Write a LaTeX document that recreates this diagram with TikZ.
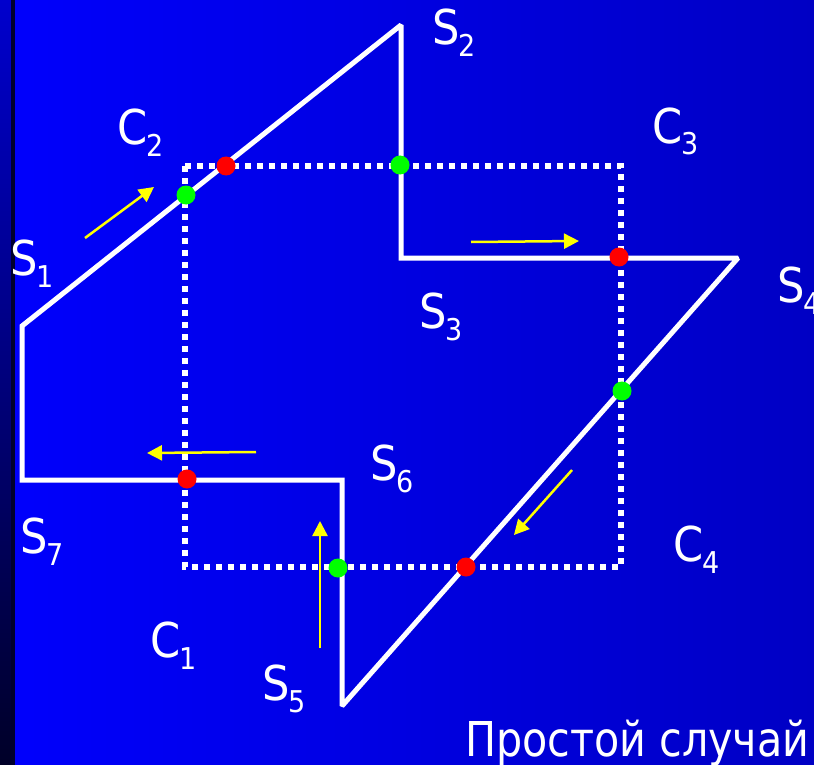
\documentclass[tikz,border=0pt]{standalone}
\usepackage{fontspec}
\setmainfont{DejaVu Sans Condensed}
\usetikzlibrary{arrows.meta}
\definecolor{bgL}{RGB}{0,0,252}
\definecolor{bgR}{RGB}{0,0,196}
\definecolor{stripT}{RGB}{0,0,205}
\definecolor{stripB}{RGB}{0,0,40}
\definecolor{stripLine}{RGB}{0,0,45}
\definecolor{dotRed}{RGB}{255,0,0}
\definecolor{dotGreen}{RGB}{0,255,0}
\definecolor{arrowYellow}{RGB}{255,255,0}
\newcommand\lblsub[2]{#1\kern-1pt\raisebox{-12pt}{\fontsize{30}{30}\selectfont #2}}
\tikzset{
  poly/.style={draw=white, line width=5pt, line join=miter, miter limit=2},
  clipbox/.style={draw=white, line width=6pt, dash pattern=on 6pt off 6pt},
  hit/.style={circle, inner sep=0pt, minimum size=19pt},
  redhit/.style={hit, fill=dotRed},
  greenhit/.style={hit, fill=dotGreen},
  dirarrow/.style={draw=arrowYellow, line width=2.5pt, -{Triangle[length=15pt,width=15pt]}},
  lbl/.style={text=white, inner sep=0pt, anchor=base west, font=\fontsize{48}{56}\selectfont}
}
\begin{document}
\begin{tikzpicture}[x=1pt, y=-1pt]
\useasboundingbox (0,0) rectangle (814,765);
% background
\shade[left color=bgL, right color=bgR] (12,0) rectangle (814,765);
\shade[top color=stripT, bottom color=stripB] (0,0) rectangle (12,765);
\fill[stripLine] (11,0) rectangle (15,765);

% polygon vertices
\coordinate (S1v) at (22,326);
\coordinate (S2v) at (401,25);
\coordinate (S3v) at (401,258);
\coordinate (S4v) at (738,258);
\coordinate (S5v) at (342,706);
\coordinate (S6v) at (342,480);
\coordinate (S7v) at (22,480);

% clipping rectangle
\coordinate (R1) at (185,166);
\coordinate (R2) at (621,567);
\draw[clipbox] (R1) rectangle (R2);

% polygon
\draw[poly] (S1v) -- (S2v) -- (S3v) -- (S4v) -- (S5v) -- (S6v) -- (S7v) -- cycle;

% intersection points
\node[redhit] (r1) at (226,166) {};
\node[redhit] (r2) at (619,257) {};
\node[redhit] (r3) at (187,479) {};
\node[redhit] (r4) at (466,567) {};
\node[greenhit] (g1) at (186,195) {};
\node[greenhit] (g2) at (400,165) {};
\node[greenhit] (g3) at (622,391) {};
\node[greenhit] (g4) at (338,568) {};

% direction arrows
\coordinate (a1s) at (85,238);  \coordinate (a1e) at (154,187);
\coordinate (a2s) at (471,242); \coordinate (a2e) at (579,241);
\coordinate (a3s) at (256,452); \coordinate (a3e) at (147,453);
\coordinate (a4s) at (572,470); \coordinate (a4e) at (514,535);
\coordinate (a5s) at (320,648); \coordinate (a5e) at (320,521);
\draw[dirarrow] (a1s) -- (a1e);
\draw[dirarrow] (a2s) -- (a2e);
\draw[dirarrow] (a3s) -- (a3e);
\draw[dirarrow] (a4s) -- (a4e);
\draw[dirarrow] (a5s) -- (a5e);

% labels
\node[lbl] (l1) at (10,275) {\lblsub{S}{1}};
\node[lbl] (l2) at (432,45) {\lblsub{S}{2}};
\node[lbl] (l3) at (419,328) {\lblsub{S}{3}};
\node[lbl] (l4) at (777,302) {\lblsub{S}{4}};
\node[lbl] (l5) at (262,700) {\lblsub{S}{5}};
\node[lbl] (l6) at (370,480) {\lblsub{S}{6}};
\node[lbl] (l7) at (20,553) {\lblsub{S}{7}};
\node[lbl] (c1) at (150,657) {\lblsub{C}{1}};
\node[lbl] (c2) at (117,145) {\lblsub{C}{2}};
\node[lbl] (c3) at (652,143) {\lblsub{C}{3}};
\node[lbl] (c4) at (673,561) {\lblsub{C}{4}};
\node[lbl] (title) at (465,756) {\resizebox{344pt}{\height}{Простой случай}};
\end{tikzpicture}
\end{document}
